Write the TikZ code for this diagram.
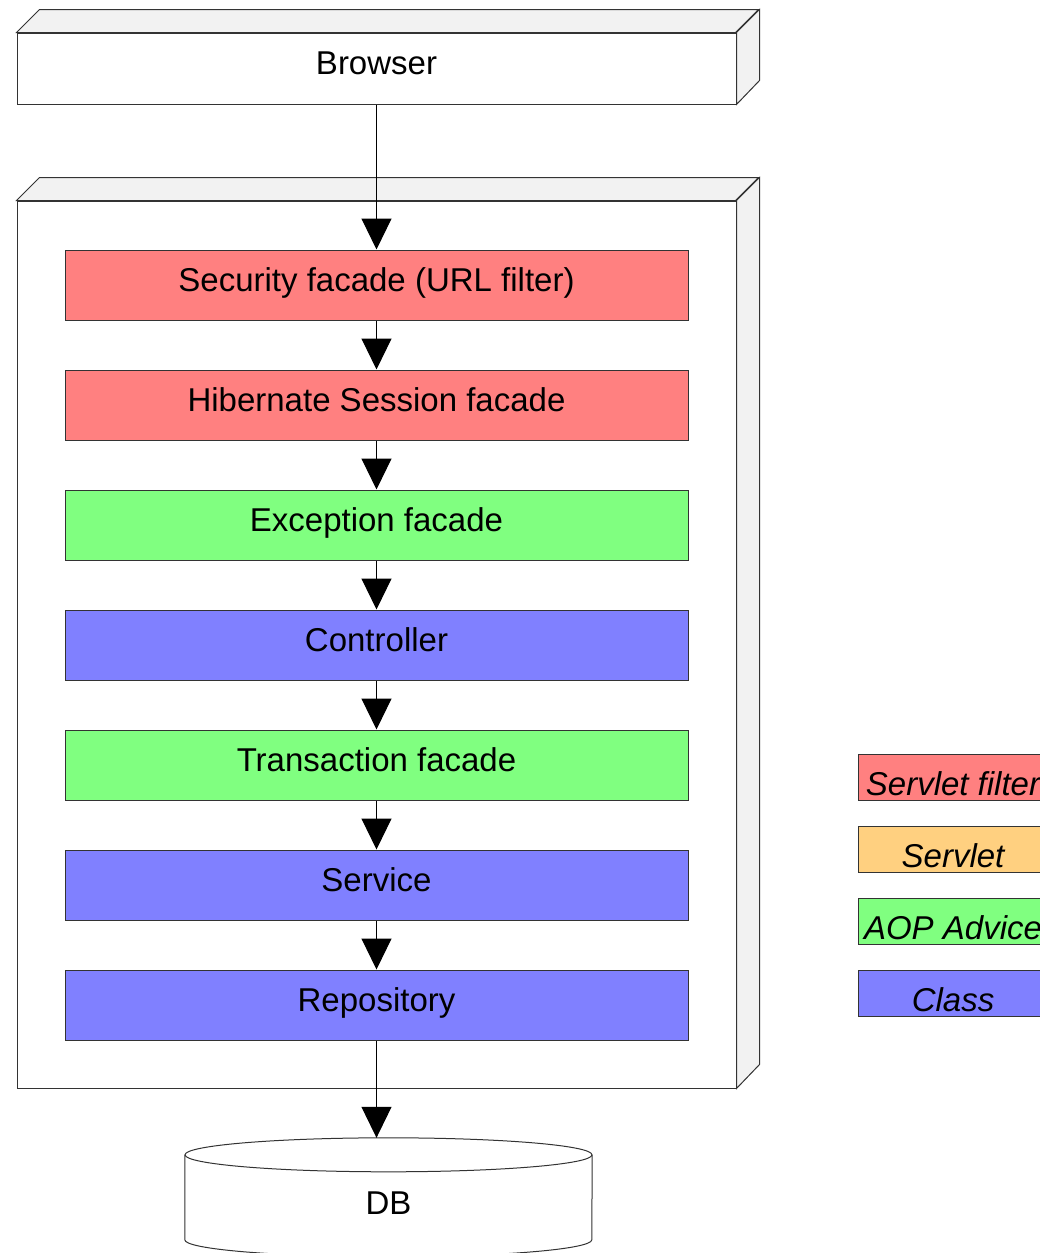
\documentclass[tikz,border=0pt]{standalone}
\usepackage{fontspec}
\setmainfont{Liberation Sans}
\usepackage{xcolor}
\usepackage{tikz}
\usetikzlibrary{arrows.meta,positioning}

\definecolor{filterred}{HTML}{FF8080}
\definecolor{servletorange}{HTML}{FFD080}
\definecolor{advicegreen}{HTML}{80FF80}
\definecolor{classblue}{HTML}{8080FF}
\definecolor{sidegray}{HTML}{F2F2F2}
\definecolor{edgegray}{HTML}{333333}

\begin{document}
\begin{tikzpicture}[x=1pt,y=-1pt,
    every node/.style={font=\fontsize{33}{40}\selectfont,text height=24pt,text depth=12pt},
    box/.style={draw=edgegray,line width=1pt,minimum width=719pt,inner sep=0pt},
    side/.style={draw=edgegray,line width=1pt,fill=sidegray},
    layer/.style={draw=edgegray,line width=1pt,fill=#1,minimum width=623pt,minimum height=70pt,inner sep=0pt},
    legend/.style={draw=edgegray,line width=1pt,fill=#1,minimum width=190pt,minimum height=46pt,inner sep=0pt,
      font=\fontsize{33}{40}\selectfont\itshape,text height=38pt,text depth=2pt},
    flow/.style={-{Triangle[length=31pt,width=30pt]},line width=1pt}]
  \useasboundingbox (0,0) rectangle (1040,1253);

  % browser
  \node[box,minimum height=71pt] (browser) at (376.5,68.5) {Browser};
  \draw[side] (browser.north west) -- ++(23,-23) -- ++(719,0) -- ++(-23,23) -- cycle;
  \draw[side] (browser.north east) -- ++(23,-23) -- ++(0,71) -- (browser.south east) -- cycle;

  % server
  \node[box,minimum height=887pt] (server) at (376.5,644.5) {};
  \draw[side] (server.north west) -- ++(23,-23) -- ++(719,0) -- ++(-23,23) -- cycle;
  \draw[side] (server.north east) -- ++(23,-23) -- ++(0,887) -- (server.south east) -- cycle;

  \node[layer=filterred] (security) at (376.5,285) {Security facade (URL filter)};
  \node[layer=filterred,below=49pt of security] (hibernate) {Hibernate Session facade};
  \node[layer=advicegreen,below=49pt of hibernate] (exception) {Exception facade};
  \node[layer=classblue,below=49pt of exception] (controller) {Controller};
  \node[layer=advicegreen,below=49pt of controller] (transaction) {Transaction facade};
  \node[layer=classblue,below=49pt of transaction] (service) {Service};
  \node[layer=classblue,below=49pt of service] (repository) {Repository};

  % database
  \node[minimum width=407pt,minimum height=140pt,inner sep=0pt] (db) at (388.5,1208) {DB};
  \draw[line width=1pt,draw=edgegray] ([yshift=-17pt]db.north west) -- ++(0,85)
    arc[start angle=180,end angle=360,x radius=203.5pt,y radius=17pt] -- ([yshift=-17pt]db.north east);
  \draw[line width=1pt,draw=edgegray] ([yshift=-17pt]db.north) ellipse [x radius=203.5pt,y radius=17pt];

  \draw[flow] (browser) -- (security);
  \draw[flow] (security) -- (hibernate);
  \draw[flow] (hibernate) -- (exception);
  \draw[flow] (exception) -- (controller);
  \draw[flow] (controller) -- (transaction);
  \draw[flow] (transaction) -- (service);
  \draw[flow] (service) -- (repository);
  \draw[flow] (repository) -- (repository.south |- db.north);

  % legend
  \node[legend=filterred] (lfilter) at (953,777) {Servlet filter};
  \node[legend=servletorange,below=25pt of lfilter] (lservlet) {Servlet};
  \node[legend=advicegreen,below=25pt of lservlet] (ladvice) {AOP Advice};
  \node[legend=classblue,below=25pt of ladvice] (lclass) {Class};
\end{tikzpicture}
\end{document}
